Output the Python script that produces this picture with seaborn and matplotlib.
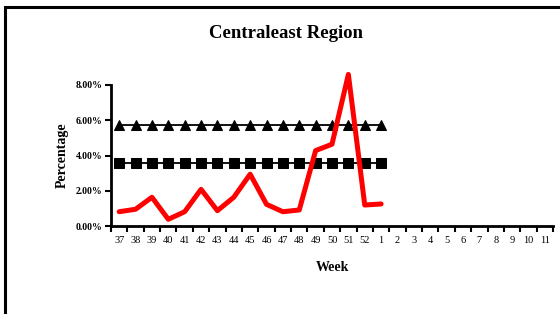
import matplotlib
matplotlib.use("Agg")
import matplotlib.pyplot as plt
import seaborn as sns
import numpy as np
import pandas as pd
from matplotlib.patches import Rectangle

# Semanas del eje x (temporada 37 -> 11)
semanas = [str(w) for w in list(range(37, 53)) + list(range(1, 12))]

# Porcentaje observado (rojo), hasta la semana 1
porcentaje = [0.0081, 0.0095, 0.0163, 0.0038, 0.0081, 0.0208, 0.0087, 0.0163,
              0.0294, 0.0123, 0.0081, 0.0091, 0.0428, 0.0464, 0.0860, 0.0119, 0.0125]
# Umbrales constantes
umbral_triangulo = [0.0574] * 17
umbral_cuadrado = [0.0358] * 17

y_ticks = [0.0, 0.02, 0.04, 0.06, 0.08]

sns.set_style("white")
plt.rcParams['font.family'] = ['Liberation Serif', 'DejaVu Serif']
plt.rcParams['text.color'] = 'black'
plt.rcParams['axes.labelcolor'] = 'black'
plt.rcParams['xtick.color'] = 'black'
plt.rcParams['ytick.color'] = 'black'

fig = plt.figure(figsize=(5.6, 3.14), dpi=100)
ax = fig.add_axes([111 / 560, 1 - 226 / 314, 442 / 560, 141 / 314])

df = pd.DataFrame({
    "pos": np.arange(len(porcentaje)),
    "rojo": porcentaje,
    "tri": umbral_triangulo,
    "cua": umbral_cuadrado,
})

sns.lineplot(data=df, x="pos", y="tri", ax=ax, color="black", linewidth=1.3,
             marker="^", markersize=7.5, markeredgecolor="black", clip_on=False)
sns.lineplot(data=df, x="pos", y="cua", ax=ax, color="black", linewidth=1.3,
             marker="s", markersize=7.3, markeredgecolor="black", clip_on=False)
sns.lineplot(data=df, x="pos", y="rojo", ax=ax, color="#ff0000", linewidth=3.6,
             clip_on=False)

ax.set_xlim(-0.5, len(semanas) - 0.5)
ax.set_ylim(0, 0.08)

# Etiquetas centradas entre marcas (estilo Excel)
ax.set_xticks(np.arange(len(semanas)))
ax.set_xticklabels(semanas, fontsize=7.5)
ax.set_xticks(np.arange(len(semanas) + 1) - 0.5, minor=True)
ax.tick_params(axis="x", which="major", length=0, pad=7)
ax.tick_params(axis="x", which="minor", length=4, width=1.5, direction="out",
               color="black", bottom=True)

ax.set_yticks(y_ticks)
ax.set_yticklabels([f"{v * 100:.2f}%" for v in y_ticks], fontsize=7,
                   fontweight="bold")
ax.tick_params(axis="y", length=4, width=1.5, direction="out", color="black",
               left=True, pad=2)

for lado in ["top", "right"]:
    ax.spines[lado].set_visible(False)
for lado in ["left", "bottom"]:
    ax.spines[lado].set_color("black")
    ax.spines[lado].set_linewidth(2)

ax.set_xlabel("Week", fontsize=10, fontweight="bold", labelpad=12)
ax.set_ylabel("Percentage", fontsize=10, fontweight="bold", labelpad=5)

fig.text(286 / 560, 1 - 33 / 314, "Centraleast Region", ha="center",
         va="center", fontsize=13.5, fontweight="bold")

# Marco exterior del gráfico
fig.patches.append(Rectangle((5 / 560, -0.2), 1.2, 1.2 - 7 / 314,
                             transform=fig.transFigure, fill=False,
                             edgecolor="black", linewidth=2.2))

fig.savefig("out.png", dpi=100, facecolor="white")
plt.close(fig)
